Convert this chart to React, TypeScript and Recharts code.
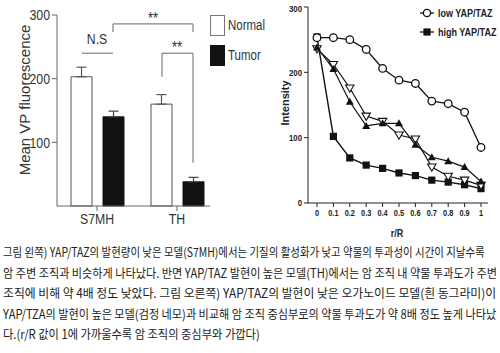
import React, { useLayoutEffect, useRef, useState } from "react";
import { BarChart, Bar, XAxis, YAxis, ErrorBar, LineChart, Line } from "recharts";

const SANS = "'Liberation Sans', Arial, sans-serif";
const KR = "'Noto Sans CJK KR', sans-serif";
const NARROW_SCALE = 0.82;

// left panel: mean VP fluorescence
const groups = ["S7MH", "TH"];
const normalMean = [203, 160];
const normalErr = [15, 15];
const tumorMean = [140, 38];
const tumorErr = [9, 7];

// right panel: intensity vs r/R
const rR = [0, 0.1, 0.2, 0.3, 0.4, 0.5, 0.6, 0.7, 0.8, 0.9, 1];
const lowYap = [253, 253, 250, 235, 206, 188, 183, 156, 152, 139, 85];
const highYap = [254, 102, 69, 58, 53, 46, 42, 35, 32, 28, 22];
const openTri = [236, 212, 176, 133, 125, 104, 98, 55, 41, 35, 27];
const filledTri = [238, 205, 155, 118, 122, 122, 89, 70, 64, 55, 33];

const captionLines = [
  "그림 왼쪽) YAP/TAZ의 발현량이 낮은 모델(S7MH)에서는 기질의 활성화가 낮고 약물의 투과성이 시간이 지날수록",
  "암 주변 조직과 비슷하게 나타났다. 반면 YAP/TAZ 발현이 높은 모델(TH)에서는 암 조직 내 약물 투과도가 주변",
  "조직에 비해 약 4배 정도 낮았다. 그림 오른쪽) YAP/TAZ의 발현이 낮은 오가노이드 모델(흰 동그라미)이",
  "YAP/TZA의 발현이 높은 모델(검정 네모)과 비교해 암 조직 중심부로의 약물 투과도가 약 8배 정도 높게 나타났",
  "다.(r/R 값이 1에 가까울수록 암 조직의 중심부와 가깝다)",
];
const captionWidths = [482, 494, 494, 494, 257];

const barData = groups.map((name, i) => ({
  name,
  normal: normalMean[i],
  normalErr: [0, normalErr[i]],
  tumor: tumorMean[i],
  tumorErr: [0, tumorErr[i]],
}));

const lineData = rR.map((r, i) => ({
  r,
  low: lowYap[i],
  high: highYap[i],
  open: openTri[i],
  filled: filledTri[i],
}));

// left plot geometry (used for the significance brackets)
const L_TOP = 15;
const L_BOTTOM = 206;
const yL = (v: number) => L_BOTTOM - (v / 300) * (L_BOTTOM - L_TOP);

// condensed text: Liberation Sans squeezed horizontally
function NText({ x, y, children, size, bold, anchor = "start", fill = "#333", dy }: any) {
  return (
    <text
      transform={`translate(${x},${y}) scale(${NARROW_SCALE},1)`}
      textAnchor={anchor}
      fontFamily={SANS}
      fontSize={size}
      fontWeight={bold ? "bold" : "normal"}
      fill={fill}
      dy={dy}
    >
      {children}
    </text>
  );
}

const makeTick = (size: number, bold: boolean, fill: string, dy: string) => (p: any) => (
  <NText x={p.x} y={p.y} size={size} bold={bold} anchor={p.textAnchor} fill={fill} dy={dy}>
    {p.payload.value}
  </NText>
);

// caption line squeezed to the width it has in the figure
function CaptionLine({ text, y, width }: { text: string; y: number; width: number }) {
  const ref = useRef<SVGTextElement>(null);
  const [sx, setSx] = useState(1);
  useLayoutEffect(() => {
    if (ref.current) {
      const w = ref.current.getComputedTextLength();
      if (w > 0) setSx(width / w);
    }
  }, [text, width]);
  return (
    <text
      ref={ref}
      transform={`translate(3,${y}) scale(${sx},1)`}
      fontFamily={KR}
      fontSize={12.5}
      fill="#222"
    >
      {text}
    </text>
  );
}

const circleDot = (p: any) => (
  <circle key={`c${p.index}`} cx={p.cx} cy={p.cy} r={3.8} fill="#fff" stroke="#111" strokeWidth={1.3} />
);
const squareDot = (p: any) => (
  <rect key={`s${p.index}`} x={p.cx - 3.6} y={p.cy - 3.6} width={7.2} height={7.2} fill="#111" />
);
const triDownDot = (p: any) => (
  <path
    key={`d${p.index}`}
    d={`M${p.cx - 4.2},${p.cy - 3} L${p.cx + 4.2},${p.cy - 3} L${p.cx},${p.cy + 4.2} Z`}
    fill="#fff"
    stroke="#111"
    strokeWidth={1.1}
  />
);
const triUpDot = (p: any) => (
  <path
    key={`u${p.index}`}
    d={`M${p.cx - 4},${p.cy + 3} L${p.cx + 4},${p.cy + 3} L${p.cx},${p.cy - 4} Z`}
    fill="#111"
  />
);

function Bracket({ x1, x2, y, y1, y2 }: { x1: number; x2: number; y: number; y1: number; y2: number }) {
  return (
    <path
      d={`M${x1},${yL(y1)} L${x1},${yL(y)} L${x2},${yL(y)} L${x2},${yL(y2)}`}
      fill="none"
      stroke="#666"
      strokeWidth={1}
    />
  );
}

export default function App() {
  return (
    <div style={{ position: "absolute", left: 0, top: 0, width: 500, height: 353, background: "#fff" }}>
      <div style={{ position: "absolute", left: 0, top: 0 }}>
        <BarChart
          width={250}
          height={235}
          data={barData}
          margin={{ top: L_TOP, right: 40, bottom: 0, left: 0 }}
          barSize={21}
          barGap={11}
        >
          <XAxis
            dataKey="name"
            height={29}
            tickSize={5}
            padding={{ left: 0, right: -7 }}
            axisLine={{ stroke: "#666" }}
            tickLine={{ stroke: "#666" }}
            tick={makeTick(15, false, "#333", "0.75em")}
          />
          <YAxis
            domain={[0, 300]}
            ticks={[100, 200, 300]}
            width={57}
            tickSize={5}
            axisLine={{ stroke: "#666" }}
            tickLine={{ stroke: "#666" }}
            tick={makeTick(15, false, "#333", "0.36em")}
          />
          <Bar dataKey="normal" fill="#fff" stroke="#555" strokeWidth={1} isAnimationActive={false}>
            <ErrorBar dataKey="normalErr" width={5} stroke="#555" strokeWidth={1.2} direction="y" />
          </Bar>
          <Bar dataKey="tumor" fill="#111" stroke="#111" strokeWidth={1} isAnimationActive={false}>
            <ErrorBar dataKey="tumorErr" width={5} stroke="#444" strokeWidth={1.2} direction="y" />
          </Bar>
        </BarChart>
      </div>

      <div style={{ position: "absolute", left: 250, top: 0 }}>
        <LineChart width={250} height={240} data={lineData} margin={{ top: 7, right: 12, bottom: 0, left: 0 }}>
          <XAxis
            type="number"
            dataKey="r"
            domain={[0, 1]}
            ticks={rR}
            interval={0}
            padding={{ left: 9, right: 7 }}
            height={37}
            tickSize={4}
            axisLine={{ stroke: "#222" }}
            tickLine={{ stroke: "#222" }}
            tick={makeTick(9, true, "#222", "0.75em")}
          />
          <YAxis
            domain={[0, 300]}
            ticks={[0, 100, 200, 300]}
            width={58}
            tickSize={4}
            axisLine={{ stroke: "#222" }}
            tickLine={{ stroke: "#222" }}
            tick={makeTick(9.5, true, "#222", "0.36em")}
          />
          <Line dataKey="high" stroke="#111" strokeWidth={1.4} dot={squareDot} isAnimationActive={false} />
          <Line dataKey="open" stroke="#111" strokeWidth={1.2} dot={triDownDot} isAnimationActive={false} />
          <Line dataKey="filled" stroke="#111" strokeWidth={1.2} dot={triUpDot} isAnimationActive={false} />
          <Line dataKey="low" stroke="#111" strokeWidth={1.3} dot={circleDot} isAnimationActive={false} />
        </LineChart>
      </div>

      <svg
        width={500}
        height={353}
        style={{ position: "absolute", left: 0, top: 0, pointerEvents: "none" }}
      >
        {/* left panel annotations */}
        <text
          transform="translate(25,100) rotate(-90)"
          textAnchor="middle"
          dy="0.36em"
          fontFamily={SANS}
          fontSize={15}
          fill="#333"
        >
          Mean VP fluorescence
        </text>
        <Bracket x1={113} x2={193} y={286} y1={273} y2={273} />
        <NText x={153} y={24} anchor="middle" size={16}>
          **
        </NText>
        <path d={`M82,${yL(240)} L113,${yL(240)}`} stroke="#666" strokeWidth={1} />
        <NText x={97} y={44} anchor="middle" size={15}>
          N.S
        </NText>
        <Bracket x1={162} x2={193} y={240} y1={203} y2={68} />
        <NText x={177} y={53} anchor="middle" size={16}>
          **
        </NText>
        <rect x={210.5} y={15.5} width={14} height={20} fill="#fff" stroke="#777" />
        <rect x={210} y={45} width={15} height={21} fill="#111" />
        <NText x={228} y={30} size={14}>
          Normal
        </NText>
        <NText x={228} y={60} size={14}>
          Tumor
        </NText>

        {/* right panel annotations */}
        <text
          transform="translate(285,103) rotate(-90)"
          textAnchor="middle"
          dy="0.36em"
          fontFamily={SANS}
          fontWeight="bold"
          fontSize={11}
          fill="#222"
        >
          Intensity
        </text>
        <NText x={397} y={237} anchor="middle" size={11} bold fill="#222">
          r/R
        </NText>
        <line x1={420} y1={13} x2={434} y2={13} stroke="#111" strokeWidth={1.3} />
        <circle cx={427} cy={13} r={3.6} fill="#fff" stroke="#111" strokeWidth={1.3} />
        <NText x={438} y={17} size={11} bold fill="#222">
          low YAP/TAZ
        </NText>
        <line x1={420} y1={32} x2={434} y2={32} stroke="#111" strokeWidth={1.3} />
        <rect x={423.4} y={28.4} width={7.2} height={7.2} fill="#111" />
        <NText x={438} y={36} size={11} bold fill="#222">
          high YAP/TAZ
        </NText>

        {/* caption */}
        {captionLines.map((line, i) => (
          <CaptionLine key={i} text={line} y={257 + i * 20.6} width={captionWidths[i]} />
        ))}
      </svg>
    </div>
  );
}
